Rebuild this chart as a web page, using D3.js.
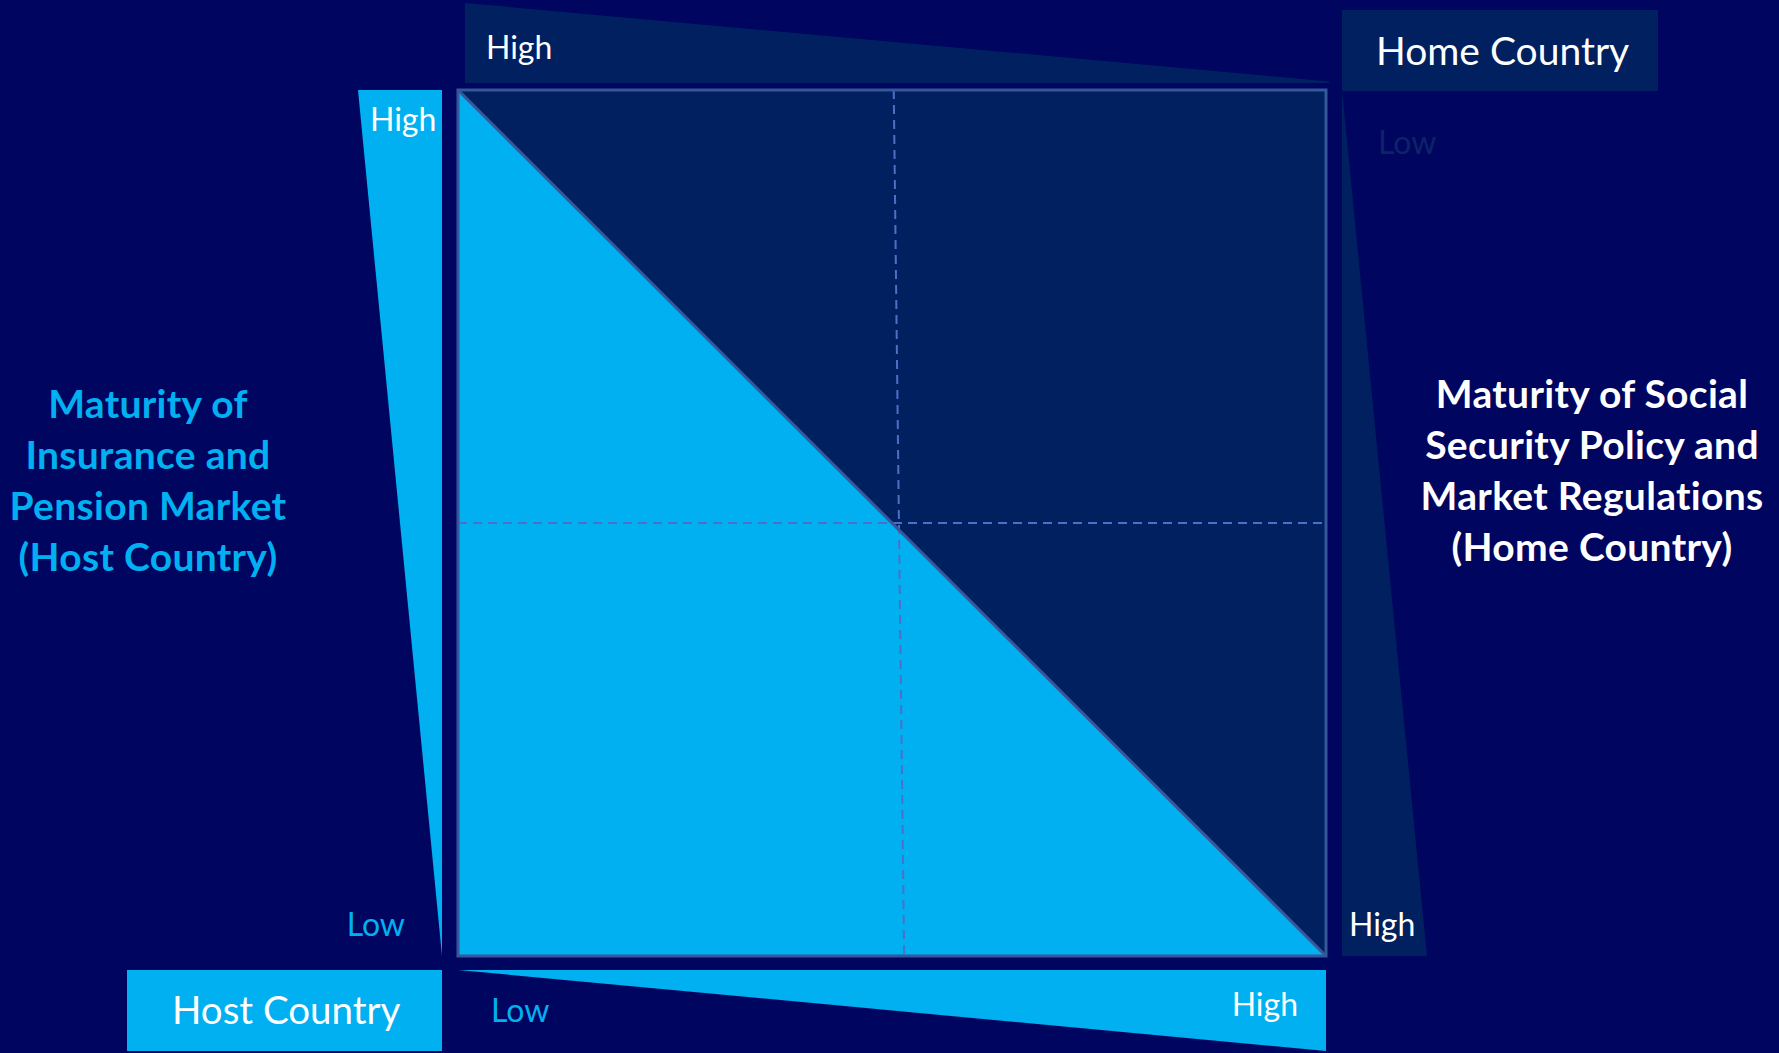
<!DOCTYPE html>
<html>
<head>
<meta charset="utf-8">
<script src="https://cdn.jsdelivr.net/npm/d3@7"></script>
<style>
  html, body { margin: 0; padding: 0; background: #000560; }
  svg { display: block; }
  text { font-family: Lato, "Open Sans", sans-serif; }
</style>
</head>
<body>
<svg id="chart" width="1779" height="1053"></svg>
<script>
// ---------- data ----------
const levels = ["Low", "High"];                 // axis scale ends
const hostAxisTitle = ["Maturity of", "Insurance and", "Pension Market", "(Host Country)"];
const homeAxisTitle = ["Maturity of Social", "Security Policy and", "Market Regulations", "(Home Country)"];
const hostLabel = "Host Country";
const homeLabel = "Home Country";
// divider positions in matrix units (0..1): [start, end]
const verticalDivider = [0.502, 0.514];   // x at top, x at bottom
const horizontalDivider = [0.5, 0.5];     // y at left, y at right
// diagonal boundary (from top-left to bottom-right)
const diagonal = [[0, 1], [1, 0]];

// ---------- layout ----------
const W = 1779, H = 1053;
const colors = { bg: "#000560", dark: "#002060", light: "#00B0F0", border: "#34589A", dash: "#4C70C8", dim: "#0C2467" };
const svg = d3.select("#chart");
svg.append("rect").attr("width", W).attr("height", H).attr("fill", colors.bg);

const x = d3.scaleLinear().domain([0, 1]).range([458, 1326]);
const y = d3.scaleLinear().domain([0, 1]).range([956, 90]);

// matrix background
svg.append("rect")
  .attr("x", x(0)).attr("y", y(1))
  .attr("width", x(1) - x(0)).attr("height", y(0) - y(1))
  .attr("fill", colors.dark);

// lower-left triangle (light)
const line = d3.line().x(d => x(d[0])).y(d => y(d[1]));
svg.append("path")
  .attr("d", line([[0, 1], [1, 0], [0, 0]]) + "Z")
  .attr("fill", colors.light);

// dashed dividers
svg.append("path")
  .attr("d", line([[verticalDivider[0], 1], [verticalDivider[1], 0]]))
  .attr("stroke", colors.dash).attr("stroke-width", 2).attr("stroke-dasharray", "9,6").attr("fill", "none");
svg.append("path")
  .attr("d", line([[0, horizontalDivider[0]], [1, horizontalDivider[1]]]))
  .attr("stroke", colors.dash).attr("stroke-width", 2).attr("stroke-dasharray", "9,6").attr("fill", "none");

// diagonal
svg.append("path")
  .attr("d", line(diagonal))
  .attr("stroke", colors.border).attr("stroke-width", 3).attr("fill", "none");

// border
svg.append("rect")
  .attr("x", x(0)).attr("y", y(1))
  .attr("width", x(1) - x(0)).attr("height", y(0) - y(1))
  .attr("fill", "none").attr("stroke", colors.border).attr("stroke-width", 3);

// ---------- wedges (scales along each side) ----------
// top wedge: home country (dark), High at left, Low at right
const topWedgeX = d3.scaleLinear().domain([0, 1]).range([465, 1329]);
const topWedgeY = d3.scaleLinear().domain([0, 1]).range([83, 3]);
svg.append("path")
  .attr("d", d3.line()([[topWedgeX(0), topWedgeY(0)], [topWedgeX(0), topWedgeY(1)], [topWedgeX(1), topWedgeY(0.02)], [topWedgeX(1), topWedgeY(0)]]) + "Z")
  .attr("fill", colors.dark);

// right wedge: home country (dark), Low at top, High at bottom
const rightWedgeX = d3.scaleLinear().domain([0, 1]).range([1342, 1427]);
svg.append("path")
  .attr("d", d3.line()([[rightWedgeX(0), y(1)], [rightWedgeX(0), y(0)], [rightWedgeX(1), y(0)]]) + "Z")
  .attr("fill", colors.dark);

// left wedge: host country (light), High at top, Low at bottom
const leftWedgeX = d3.scaleLinear().domain([0, 1]).range([442, 358]);
svg.append("path")
  .attr("d", d3.line()([[leftWedgeX(0), y(1)], [leftWedgeX(1), y(1)], [leftWedgeX(0), y(0)]]) + "Z")
  .attr("fill", colors.light);

// bottom wedge: host country (light), Low at left, High at right
const bottomWedgeY = d3.scaleLinear().domain([0, 1]).range([970, 1051]);
svg.append("path")
  .attr("d", d3.line()([[x(0), bottomWedgeY(0)], [x(1), bottomWedgeY(0)], [x(1), bottomWedgeY(1)]]) + "Z")
  .attr("fill", colors.light);

// ---------- label boxes ----------
svg.append("rect").attr("x", 1342).attr("y", 10).attr("width", 316).attr("height", 81).attr("fill", colors.dark);
svg.append("text").attr("x", 1376).attr("y", 65).attr("font-size", 39).attr("fill", "#ffffff").text(homeLabel);

svg.append("rect").attr("x", 127).attr("y", 970).attr("width", 315).attr("height", 81).attr("fill", colors.light);
svg.append("text").attr("x", 172).attr("y", 1024).attr("font-size", 38.5).attr("fill", "#ffffff").text(hostLabel);

// ---------- level labels ----------
const lvl = [
  { t: levels[1], x: 486, y: 59, fill: "#ffffff", anchor: "start" },   // top wedge
  { t: levels[0], x: 1378, y: 154, fill: colors.dim, anchor: "start" }, // right wedge top
  { t: levels[1], x: 1349, y: 936, fill: "#ffffff", anchor: "start" },  // right wedge bottom
  { t: levels[1], x: 370, y: 131, fill: "#ffffff", anchor: "start" },   // left wedge top
  { t: levels[0], x: 405, y: 936, fill: colors.light, anchor: "end" },  // left bottom
  { t: levels[0], x: 491, y: 1022, fill: colors.light, anchor: "start" },// bottom left
  { t: levels[1], x: 1298, y: 1016, fill: "#ffffff", anchor: "end" }    // bottom right
];
svg.selectAll("text.lvl").data(lvl).enter().append("text")
  .attr("class", "lvl")
  .attr("x", d => d.x).attr("y", d => d.y)
  .attr("text-anchor", d => d.anchor)
  .attr("font-size", 32).attr("fill", d => d.fill)
  .text(d => d.t);

// ---------- axis titles ----------
svg.append("text").attr("text-anchor", "middle").attr("font-size", 39).attr("font-weight", "bold").attr("fill", colors.light)
  .attr("letter-spacing", 0.3)
  .selectAll("tspan").data(hostAxisTitle).enter().append("tspan")
  .attr("x", 148).attr("y", (d, i) => 418 + i * 51).text(d => d);

svg.append("text").attr("text-anchor", "middle").attr("font-size", 39).attr("font-weight", "bold").attr("fill", "#ffffff")
  .attr("letter-spacing", 0.3)
  .selectAll("tspan").data(homeAxisTitle).enter().append("tspan")
  .attr("x", 1592).attr("y", (d, i) => 408 + i * 51).text(d => d);
</script>
</body>
</html>
